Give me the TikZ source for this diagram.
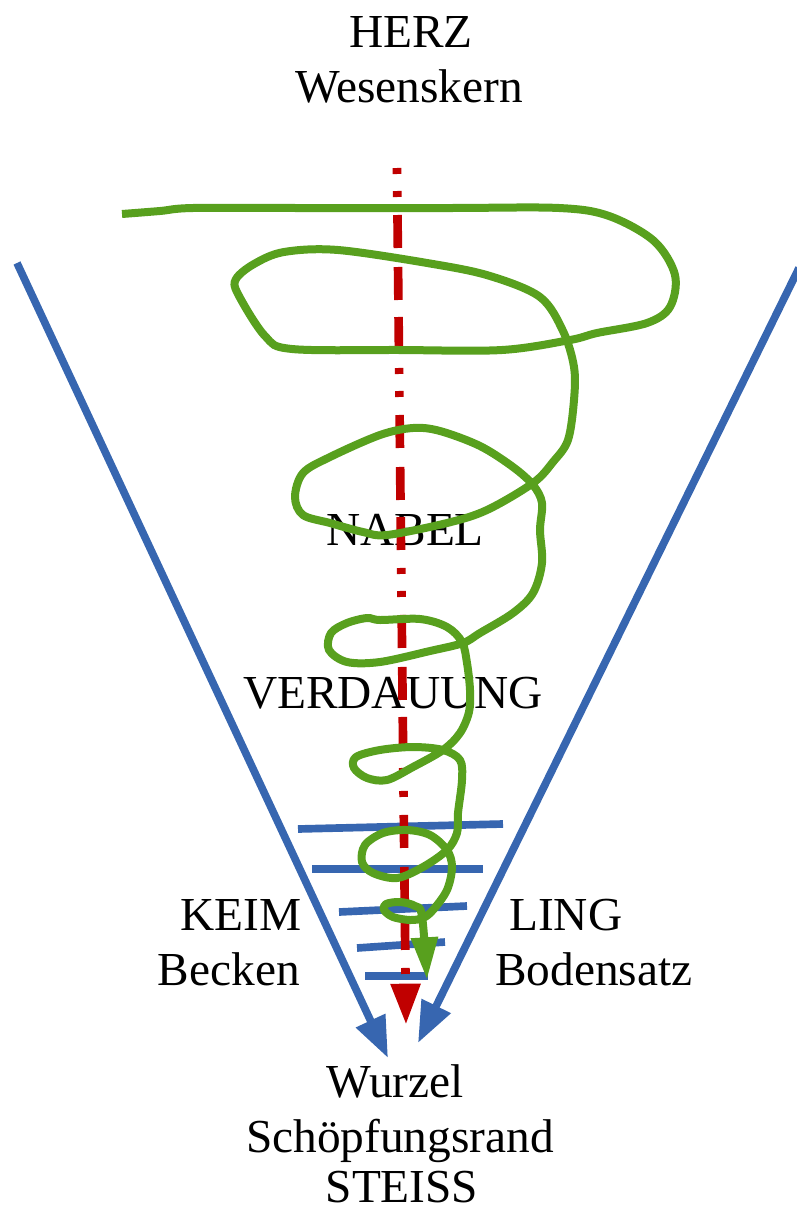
\documentclass[tikz,border=0pt]{standalone}
\usepackage{fontspec}
\setmainfont{Liberation Serif}
\usetikzlibrary{arrows.meta}
\definecolor{bl}{HTML}{3766B0}
\definecolor{gr}{HTML}{58A01E}
\definecolor{rd}{HTML}{C00000}
\begin{document}
\begin{tikzpicture}[x=0.75pt,y=-0.75pt,
  lbl/.style={anchor=base,inner sep=0pt,font=\fontsize{35.5pt}{42pt}\selectfont},
  blueline/.style={draw=bl,line width=5.75pt},
  bluearrow/.style={blueline,-{Triangle[length=31pt,width=23pt]}},
  redline/.style={draw=rd,line width=6.5pt,dash pattern=on 4.5pt off 12.75pt on 4.5pt off 13.5pt on 24.75pt off 14.25pt on 24.75pt off 12.75pt on 24.75pt off 13.5pt,-{Triangle[length=31pt,width=21pt]}},
  greenline/.style={draw=gr,line width=6pt,line join=round,line cap=butt,-{Triangle[length=32pt,width=19pt]}}]
\useasboundingbox (0,0) rectangle (796,1210);
% texts
\node[lbl] (herz) at (411,47) {HERZ};
\node[lbl] (wesen) at (409,102) {Wesenskern};
\node[lbl] (nabel) at (405,545) {NABEL};
\node[lbl] (verd) at (393,708) {VERDAUUNG};
\node[lbl,anchor=base east] (keim) at (302,930) {KEIM};
\node[lbl,anchor=base east] (becken) at (300,985) {Becken};
\node[lbl,anchor=base west] (ling) at (509,930) {LING};
\node[lbl,anchor=base west] (boden) at (495,985) {Bodensatz};
\node[lbl] (wurzel) at (395,1097) {Wurzel};
\node[lbl] (schoepf) at (400,1152) {Schöpfungsrand};
\node[lbl] (steiss) at (402,1202) {STEISS};
% blue cone
\coordinate (lTop) at (17,263);
\coordinate (lTip) at (388,1058);
\coordinate (rTop) at (799,268);
\coordinate (rTip) at (418,1043);
\draw[bluearrow] (lTop) -- (lTip);
\draw[bluearrow] (rTop) -- (rTip);
% blue layers
\draw[blueline] (298,829) -- (503,824);
\draw[blueline] (312,869) -- (483,869);
\draw[blueline] (339,912) -- (467,906);
\draw[blueline] (357,948) -- (445,942);
\draw[blueline] (365,976) -- (428,976);
% red axis
\coordinate (rStart) at (397,168);
\coordinate (rEnd) at (406,1025);
\draw[redline] (rStart) -- (rEnd);
% green spiral
\draw[greenline] plot[smooth,tension=0.55] coordinates {
(122,214) (160,211) (193,208) (300,208) (450,208) (559,208) (609,216) (654,241) (675,275) (670,307) (647,323) (597,333) (570,340) (502,350) (400,350) (292,349) (265,336) (238,294) (236,279) (254,264) (284,252) (338,250) (433,264) (490,276) (540,297) (563,331) (574,367)
(574,400) (568,440) (553,462) (533,483) (487,510) (447,523) (387,535) (363,532) (330,523) (303,515) (295,497) (303,473) (330,457) (380,435) (413,428) (440,431) (480,446) (513,467) (533,485) (542,503) (540,530) (542,563) (533,593) (513,613) (480,633) (463,643) (430,651) (380,662) (347,662) (329,650) (331,633) (347,623) (367,618) (380,620) (420,619) (447,627) (462,642) (467,663) (470,690) (469,712) (460,733) (443,750) (413,767) (387,780) (367,778) (354,768) (356,757) (380,750) (413,747) (443,750) (460,760) (462,780) (458,813) (457,833) (447,850) (423,867) (397,878) (373,873) (362,862) (365,845) (383,833) (407,830) (430,835) (447,850) (452,867) (447,890) (433,910) (423,918) (410,920) (393,917) (384,910) (386,904) (400,902) (415,906) (422,916) (427,980)};
\end{tikzpicture}
\end{document}
